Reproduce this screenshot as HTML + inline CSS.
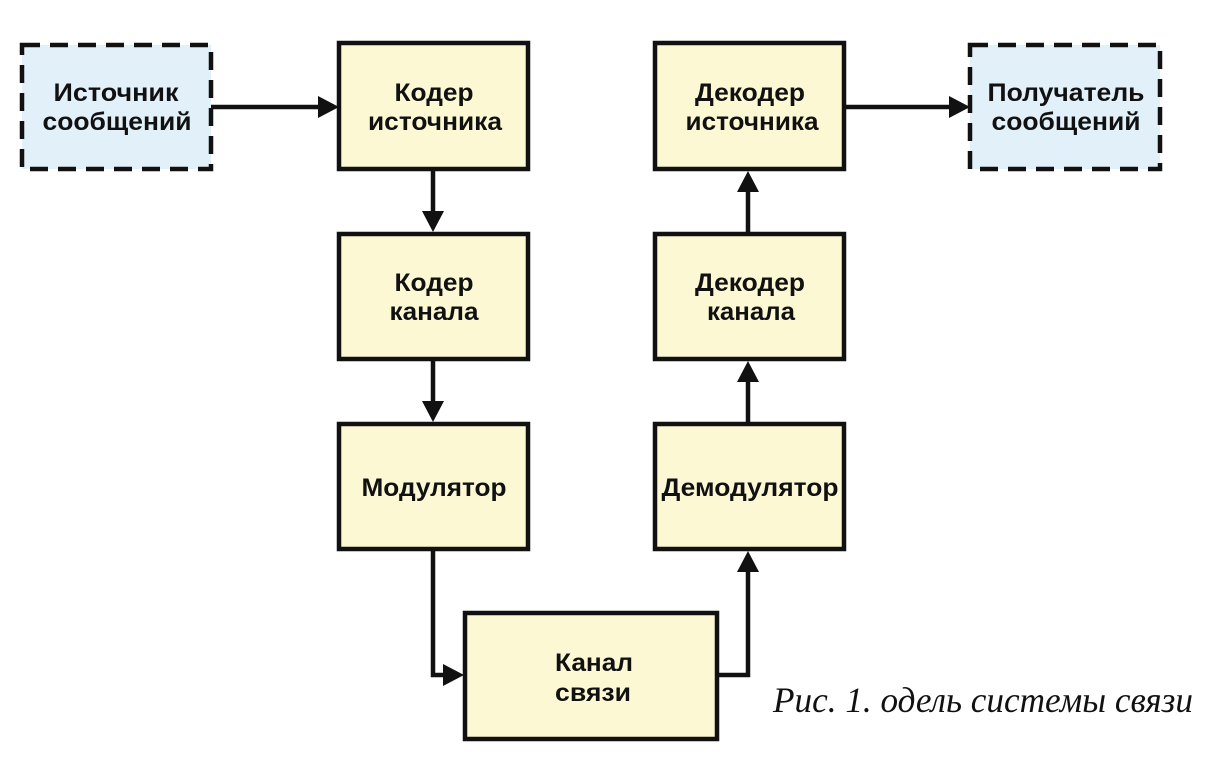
<!DOCTYPE html>
<html>
<head>
<meta charset="utf-8">
<style>
  html, body { margin: 0; padding: 0; background: #ffffff; }
  body { width: 1207px; height: 764px; overflow: hidden; }
  svg { display: block; }
  .lbl { font-family: "Liberation Sans", "DejaVu Sans", sans-serif; font-weight: bold; font-size: 25px; fill: #111; }
  .cap { font-family: "Liberation Serif", "DejaVu Serif", serif; font-style: italic; font-size: 36px; fill: #111; }
</style>
</head>
<body>
<svg width="1207" height="764" viewBox="0 0 1207 764" xmlns="http://www.w3.org/2000/svg">
  <rect x="0" y="0" width="1207" height="764" fill="#ffffff"/>

  <!-- Dashed boxes -->
  <rect x="22" y="45" width="189" height="124" fill="#e2f0fa" stroke="#111" stroke-width="4.5" stroke-dasharray="18 10"/>
  <rect x="970" y="45" width="190" height="124" fill="#e2f0fa" stroke="#111" stroke-width="4.5" stroke-dasharray="18 10"/>

  <!-- Solid boxes -->
  <g fill="#fcf8d4" stroke="#111" stroke-width="4.5">
    <rect x="339" y="43" width="189" height="126"/>
    <rect x="339" y="234" width="189" height="125"/>
    <rect x="339" y="424" width="189" height="125"/>
    <rect x="465" y="613" width="252" height="126"/>
    <rect x="655" y="424" width="189" height="125"/>
    <rect x="655" y="234" width="189" height="125"/>
    <rect x="655" y="43" width="189" height="126"/>
  </g>

  <!-- Connector lines -->
  <g fill="none" stroke="#111" stroke-width="4.5">
    <line x1="211" y1="107" x2="322" y2="107"/>
    <line x1="433" y1="169" x2="433" y2="214"/>
    <line x1="433" y1="359" x2="433" y2="404"/>
    <polyline points="433,549 433,675 446,675"/>
    <polyline points="717,675 748,675 748,570"/>
    <line x1="748" y1="424" x2="748" y2="380"/>
    <line x1="748" y1="234" x2="748" y2="190"/>
    <line x1="844" y1="107" x2="952" y2="107"/>
  </g>

  <!-- Arrowheads -->
  <g fill="#111">
    <polygon points="318,96 339,107 318,118"/>
    <polygon points="422,211 444,211 433,232"/>
    <polygon points="422,401 444,401 433,422"/>
    <polygon points="443,664 464,675 443,686"/>
    <polygon points="737,572 759,572 748,551"/>
    <polygon points="737,382 759,382 748,361"/>
    <polygon points="737,192 759,192 748,171"/>
    <polygon points="949,96 970,107 949,118"/>
  </g>

  <!-- Labels -->
  <g class="lbl" text-anchor="middle">
    <text x="116" y="101" textLength="125" lengthAdjust="spacingAndGlyphs">Источник</text>
    <text x="117" y="130" textLength="149" lengthAdjust="spacingAndGlyphs">сообщений</text>

    <text x="434" y="101" textLength="79" lengthAdjust="spacingAndGlyphs">Кодер</text>
    <text x="435" y="130" textLength="134" lengthAdjust="spacingAndGlyphs">источника</text>

    <text x="434" y="291" textLength="79" lengthAdjust="spacingAndGlyphs">Кодер</text>
    <text x="434" y="320" textLength="89" lengthAdjust="spacingAndGlyphs">канала</text>

    <text x="434" y="496" textLength="145" lengthAdjust="spacingAndGlyphs">Модулятор</text>

    <text x="594" y="671" textLength="78" lengthAdjust="spacingAndGlyphs">Канал</text>
    <text x="593" y="701" textLength="76" lengthAdjust="spacingAndGlyphs">связи</text>

    <text x="750" y="496" textLength="177" lengthAdjust="spacingAndGlyphs">Демодулятор</text>

    <text x="750" y="291" textLength="110" lengthAdjust="spacingAndGlyphs">Декодер</text>
    <text x="751" y="320" textLength="88" lengthAdjust="spacingAndGlyphs">канала</text>

    <text x="750" y="101" textLength="110" lengthAdjust="spacingAndGlyphs">Декодер</text>
    <text x="752" y="130" textLength="133" lengthAdjust="spacingAndGlyphs">источника</text>

    <text x="1066" y="101" textLength="157" lengthAdjust="spacingAndGlyphs">Получатель</text>
    <text x="1066" y="130" textLength="149" lengthAdjust="spacingAndGlyphs">сообщений</text>
  </g>

  <!-- Caption -->
  <text class="cap" x="773" y="712" textLength="420" lengthAdjust="spacingAndGlyphs">Рис. 1. одель системы связи</text>
</svg>
</body>
</html>
